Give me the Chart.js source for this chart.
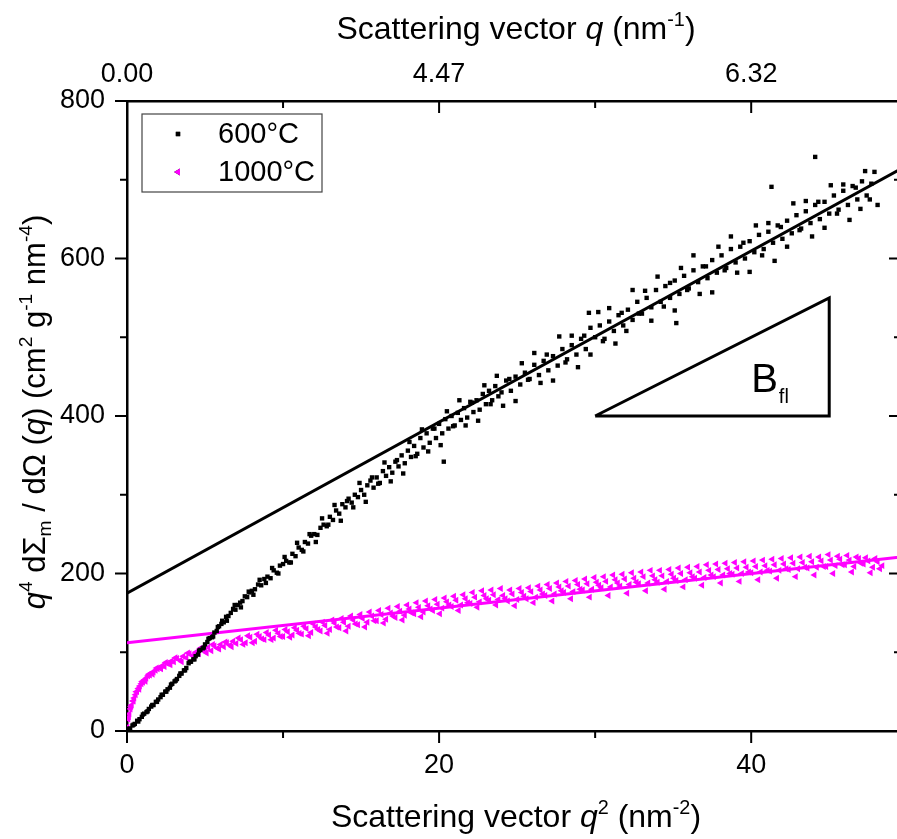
<!DOCTYPE html>
<html>
<head>
<meta charset="utf-8">
<script src="https://cdn.jsdelivr.net/npm/chart.js@4.4.0/dist/chart.umd.min.js"></script>
<style>
  html, body { margin: 0; padding: 0; overflow: hidden; background: #fff; }
  canvas { display: block; }
</style>
</head>
<body>
<canvas id="chart" width="905" height="839"></canvas>
<script>
const seriesNames = ['600°C', '1000°C']

// 600°C: q² (nm⁻²) and q⁴ dΣ/dΩ, core of the band
const xs600 = [0.05, 0.2, 0.35, 0.5, 0.65, 0.8, 0.95, 1.1, 1.25, 1.4, 1.55, 1.7, 1.85, 2.0, 2.15, 2.3, 2.45, 2.6, 2.75, 2.9,
  3.05, 3.2, 3.35, 3.5, 3.65, 3.8, 3.95, 4.1, 4.25, 4.4, 4.55, 4.7, 4.85, 5.0, 5.15, 5.3, 5.45, 5.6, 5.75, 5.9,
  6.05, 6.2, 6.35, 6.5, 6.65, 6.8, 6.95, 7.1, 7.25, 7.4, 7.55, 7.7, 7.85, 8.0, 8.2, 8.4, 8.6, 8.8, 9.0, 9.2,
  9.4, 9.6, 9.8, 10.0, 10.2, 10.4, 10.6, 10.8, 11.0, 11.2, 11.4, 11.6, 11.8, 12.0, 12.2, 12.4, 12.6, 12.8, 13.0, 13.2,
  13.4, 13.6, 13.8, 14.0, 14.2, 14.4, 14.6, 14.8, 15.0, 15.2, 15.4, 15.6, 15.8, 16.0, 16.2, 16.4, 16.6, 16.8, 17.0, 17.2,
  17.4, 17.6, 17.8, 18.0, 18.2, 18.4, 18.6, 18.8, 19.0, 19.2, 19.4, 19.6, 19.8, 20.0, 20.2, 20.3, 20.4, 20.6, 20.8, 21.0,
  21.2, 21.4, 21.6, 21.8, 22.0, 22.2, 22.4, 22.6, 22.8, 23.0, 23.2, 23.4, 23.6, 23.8, 24.0, 24.3, 24.6, 24.9, 25.2, 25.5,
  25.8, 26.1, 26.4, 26.7, 27.0, 27.3, 27.6, 27.9, 28.2, 28.5, 28.8, 29.1, 29.4, 29.6, 29.7, 30.0, 30.3, 30.6, 30.9, 31.2,
  31.5, 31.8, 32.1, 32.4, 32.7, 33.0, 33.3, 33.6, 33.9, 34.2, 34.5, 34.8, 35.1, 35.2, 35.4, 35.7, 36.0, 36.3, 36.6, 36.9,
  37.2, 37.5, 37.8, 38.1, 38.4, 38.7, 39.0, 39.3, 39.6, 39.9, 40.2, 40.5, 40.8, 41.1, 41.3, 41.4, 41.7, 42.0, 42.3, 42.6,
  42.9, 43.2, 43.5, 43.8, 44.1, 44.1, 44.4, 44.7, 45.0, 45.3, 45.6, 45.9, 46.2, 46.5, 46.8, 47.1, 47.4, 47.7, 48.1]
const ys600 = [1, 3, 7, 9, 13, 15, 18, 22, 24, 28, 31, 33, 37, 40, 43, 46, 50, 53, 55, 60,
  63, 66, 70, 73, 77, 80, 86, 88, 91, 95, 97, 103, 105, 110, 113, 118, 119, 125, 127, 133,
  136, 138, 145, 146, 150, 155, 154, 160, 163, 165, 171, 170, 176, 178, 180, 186, 185, 193, 196, 194,
  204, 201, 210, 212, 216, 214, 225, 222, 233, 230, 240, 238, 248, 250, 249, 258, 262, 260, 272, 268,
  280, 276, 288, 284, 295, 290, 300, 297, 306, 300, 312, 318, 309, 322, 315, 330, 324, 335, 328, 342,
  336, 350, 340, 356, 348, 362, 352, 372, 360, 378, 366, 384, 372, 390, 378, 342, 396, 384, 400, 388,
  404, 395, 410, 398, 418, 405, 420, 408, 428, 415, 432, 420, 438, 425, 430, 445, 432, 450, 440, 455,
  447, 465, 452, 470, 458, 476, 464, 485, 472, 490, 478, 498, 485, 531, 512, 500, 515, 498, 520, 508,
  528, 515, 535, 522, 545, 530, 550, 538, 560, 545, 565, 550, 572, 518, 555, 578, 562, 585, 570, 590,
  575, 598, 582, 604, 588, 612, 595, 615, 600, 622, 608, 630, 612, 634, 691, 620, 642, 625, 648, 632,
  655, 638, 660, 645, 668, 729, 650, 672, 657, 680, 662, 686, 668, 692, 675, 698, 680, 695, 668]

// 600°C, scattered points around the core
const xs600b = [0.12, 0.42, 0.72, 1.02, 1.32, 1.62, 1.92, 2.22, 2.52, 2.82, 3.12, 3.42, 3.72, 4.02, 4.32, 4.62, 4.92, 5.22, 5.52, 5.82,
  6.1, 6.4, 6.9, 7.3, 7.8, 8.1, 8.5, 8.9, 9.3, 9.7, 10.1, 10.5, 10.9, 11.3, 11.7, 12.1, 12.5, 12.9, 13.3, 13.7,
  14.1, 14.5, 14.9, 15.3, 15.7, 16.1, 16.5, 16.9, 17.3, 17.7, 18.1, 18.5, 18.9, 19.3, 19.7, 20.1, 20.5, 20.9, 21.3, 21.7,
  22.1, 22.5, 22.9, 23.3, 23.7, 24.1, 24.5, 24.9, 25.3, 25.7, 26.1, 26.5, 26.9, 27.3, 27.7, 28.1, 28.5, 28.9, 29.3, 29.7,
  30.2, 30.5, 30.9, 31.3, 31.7, 32.0, 32.4, 32.8, 33.2, 33.6, 34.0, 34.4, 34.8, 35.1, 35.5, 35.9, 36.3, 36.7, 37.1, 37.5,
  37.9, 38.3, 38.7, 39.1, 39.5, 39.9, 40.3, 40.7, 41.1, 41.5, 41.9, 42.3, 42.7, 43.1, 43.5, 43.9, 44.3, 44.7, 45.1, 45.5,
  45.9, 46.3, 46.7, 47.0, 47.3, 47.6, 47.9]
const ys600b = [3, 8, 12, 21, 25, 33, 37, 46, 50, 59, 64, 73, 77, 88, 91, 102, 106, 117, 120, 132,
  140, 140, 160, 157, 177, 173, 192, 188, 207, 200, 221, 214, 239, 228, 250, 240, 270, 262, 287, 267,
  292, 284, 315, 291, 322, 314, 341, 317, 344, 327, 367, 349, 383, 355, 384, 363, 406, 387, 420, 388,
  417, 394, 439, 415, 451, 413, 447, 419, 467, 446, 480, 442, 478, 445, 501, 468, 502, 462, 502, 478,
  532, 495, 537, 492, 531, 508, 560, 530, 559, 521, 577, 539, 569, 534, 588, 560, 604, 555, 590, 557,
  615, 585, 628, 582, 620, 583, 642, 604, 645, 597, 640, 615, 670, 636, 673, 628, 672, 639, 693, 657,
  694, 649, 690, 663, 711, 675, 710]

// 1000°C, core of the band
const xs1000 = [0.02, 0.08, 0.15, 0.22, 0.3, 0.38, 0.46, 0.55, 0.64, 0.73, 0.82, 0.92, 1.02, 1.12, 1.23, 1.34, 1.46, 1.58, 1.7, 1.83,
  1.96, 2.1, 2.25, 2.4, 2.55, 2.7, 2.85, 3.0, 3.2, 3.4, 3.6, 3.8, 4.0, 4.2, 4.4, 4.6, 4.8, 5.0, 5.2, 5.4,
  5.6, 5.8, 6.0, 6.2, 6.4, 6.6, 6.8, 7.0, 7.3, 7.6, 7.9, 8.2, 8.5, 8.8, 9.1, 9.4, 9.7, 10.0, 10.3, 10.6,
  10.9, 11.2, 11.5, 11.8, 12.1, 12.4, 12.7, 13.0, 13.3, 13.6, 13.9, 14.2, 14.5, 14.8, 15.1, 15.4, 15.7, 16.0, 16.3, 16.6,
  16.9, 17.2, 17.5, 17.8, 18.1, 18.4, 18.7, 19.0, 19.3, 19.6, 19.9, 20.2, 20.5, 20.8, 21.1, 21.4, 21.7, 22.0, 22.3, 22.6,
  22.9, 23.2, 23.5, 23.8, 24.1, 24.4, 24.7, 25.0, 25.3, 25.6, 25.9, 26.2, 26.5, 26.8, 27.1, 27.4, 27.7, 28.0, 28.3, 28.6,
  28.9, 29.2, 29.5, 29.8, 30.1, 30.4, 30.7, 31.0, 31.3, 31.6, 31.9, 32.2, 32.5, 32.8, 33.1, 33.4, 33.7, 34.0, 34.3, 34.6,
  34.9, 35.2, 35.5, 35.8, 36.1, 36.4, 36.7, 37.0, 37.3, 37.6, 37.9, 38.2, 38.5, 38.8, 39.1, 39.4, 39.7, 40.0, 40.3, 40.6,
  40.9, 41.2, 41.5, 41.8, 42.1, 42.4, 42.7, 43.0, 43.3, 43.6, 43.9, 44.2, 44.5, 44.8, 45.1, 45.4, 45.7, 46.0, 46.3, 46.6,
  46.9, 47.2, 47.5, 47.8, 48.1, 48.4]
const ys1000 = [5, 15, 22, 28, 33, 38, 42, 46, 50, 54, 57, 60, 62, 65, 67, 70, 71, 74, 75, 77,
  79, 80, 83, 82, 86, 85, 89, 88, 92, 90, 95, 93, 98, 96, 100, 98, 103, 101, 106, 102,
  108, 105, 110, 107, 112, 109, 114, 111, 116, 112, 119, 114, 120, 116, 122, 118, 124, 120, 126, 122,
  128, 123, 130, 125, 132, 127, 134, 129, 137, 131, 138, 133, 141, 135, 143, 138, 146, 140, 148, 142,
  150, 144, 152, 147, 155, 149, 157, 151, 159, 153, 161, 156, 164, 158, 166, 160, 168, 162, 170, 164,
  172, 166, 173, 167, 172, 165, 174, 167, 176, 168, 177, 170, 179, 172, 181, 174, 183, 176, 184, 177,
  186, 179, 187, 180, 189, 182, 190, 183, 192, 184, 193, 186, 194, 187, 196, 188, 197, 189, 197, 190,
  199, 191, 200, 192, 201, 194, 202, 195, 204, 196, 205, 198, 206, 199, 207, 200, 208, 201, 209, 202,
  210, 203, 211, 204, 212, 205, 213, 206, 214, 207, 215, 208, 216, 209, 217, 210, 218, 211, 217, 209,
  219, 212, 216, 208, 215, 210]

// 1000°C, scattered points around the core
const xs1000b = [0.12, 0.26, 0.42, 0.6, 0.78, 0.97, 1.18, 1.4, 1.64, 1.9, 2.18, 2.48, 2.78, 3.1, 3.5, 3.9, 4.3, 4.7, 5.1, 5.5,
  5.9, 6.3, 6.7, 7.15, 7.45, 7.75, 8.05, 8.35, 8.65, 8.95, 9.25, 9.55, 9.85, 10.15, 10.45, 10.75, 11.05, 11.35, 11.65, 11.95,
  12.25, 12.55, 12.85, 13.15, 13.45, 13.75, 14.05, 14.35, 14.65, 14.95, 15.25, 15.55, 15.85, 16.15, 16.45, 16.75, 17.05, 17.35, 17.65, 17.95,
  18.25, 18.55, 18.85, 19.15, 19.45, 19.75, 20.05, 20.35, 20.65, 20.95, 21.25, 21.55, 21.85, 22.15, 22.45, 22.75, 23.05, 23.35, 23.65, 23.95,
  24.25, 24.55, 24.85, 25.15, 25.45, 25.75, 26.05, 26.35, 26.65, 26.95, 27.25, 27.55, 27.85, 28.15, 28.45, 28.75, 29.05, 29.35, 29.65, 29.95,
  30.25, 30.55, 30.85, 31.15, 31.45, 31.75, 32.05, 32.35, 32.65, 32.95, 33.25, 33.55, 33.85, 34.15, 34.45, 34.75, 35.05, 35.35, 35.65, 35.95,
  36.25, 36.55, 36.85, 37.15, 37.45, 37.75, 38.05, 38.35, 38.65, 38.95, 39.25, 39.55, 39.85, 40.15, 40.45, 40.75, 41.05, 41.35, 41.65, 41.95,
  42.25, 42.55, 42.85, 43.15, 43.45, 43.75, 44.05, 44.35, 44.65, 44.95, 45.25, 45.55, 45.85, 46.15, 46.45, 46.75, 47.05, 47.35, 47.65, 47.95,
  48.25]
const ys1000b = [18, 31, 38, 50, 53, 63, 63, 72, 72, 80, 79, 87, 84, 93, 88, 99, 95, 105, 99, 110,
  104, 113, 107, 118, 110, 121, 112, 123, 117, 125, 116, 128, 120, 129, 119, 131, 124, 133, 121, 136,
  129, 138, 124, 141, 132, 143, 127, 146, 136, 148, 132, 151, 140, 153, 137, 156, 146, 158, 141, 160,
  150, 163, 145, 165, 155, 167, 149, 169, 160, 171, 153, 173, 163, 176, 157, 178, 168, 179, 160, 181,
  168, 179, 159, 181, 171, 182, 163, 184, 174, 186, 165, 188, 178, 190, 168, 191, 180, 193, 170, 195,
  185, 196, 172, 198, 188, 199, 175, 201, 189, 202, 178, 204, 192, 204, 180, 205, 194, 207, 183, 208,
  196, 209, 185, 211, 198, 212, 188, 213, 200, 214, 190, 215, 202, 216, 192, 217, 204, 218, 194, 219,
  206, 220, 196, 221, 208, 222, 198, 221, 209, 224, 200, 222, 211, 223, 202, 221, 213, 220, 201, 219,
  206]

// linear fits at high q
const fitX = [0, 49.6]
const fit600 = [175, 714]
const fit1000 = [112, 221]

// slope triangle
const triX = [30, 45, 45, 30]
const triY = [400, 400, 550, 400]

// axes
const xMax = 49.6
const xLabelVals = [0, 20, 40]
const qTickLabels = ['0.00', '4.47', '6.32']
const yLabelVals = [0, 200, 400, 600, 800]

const FONT = "'Liberation Sans', Arial, Helvetica, sans-serif"
const MAGENTA = '#ff00ff'

const pts = (xs, ys) => xs.map((x, i) => ({ x, y: ys[i] }))

function drawRich(ctx, parts, x, y, size) {
  const fontFor = (p) => {
    const s = p[1] === 'sup' || p[1] === 'sub' ? size * 0.62 : size
    return (p[1] === 'i' ? 'italic ' : '') + s + 'px ' + FONT
  }
  let total = 0
  parts.forEach(p => { ctx.font = fontFor(p); total += ctx.measureText(p[0]).width })
  let cx = x - total / 2
  ctx.textAlign = 'left'
  ctx.textBaseline = 'alphabetic'
  parts.forEach(p => {
    ctx.font = fontFor(p)
    let dy = 0
    if (p[1] === 'sup') dy = -size * 0.42
    if (p[1] === 'sub') dy = size * 0.2
    ctx.fillText(p[0], cx, y + dy)
    cx += ctx.measureText(p[0]).width
  })
}

const decorations = {
  id: 'decorations',
  afterDraw(chart) {
    const { ctx, chartArea: a, scales } = chart
    ctx.save()
    ctx.fillStyle = '#000'
    ctx.strokeStyle = '#000'
    ctx.lineWidth = 2

    // tick marks: outward on left/bottom, inward on top/right
    const xt = []
    for (let v = 0; v <= xMax; v += 10) xt.push(v)
    const yt = []
    for (let v = 0; v <= 800; v += 100) yt.push(v)
    ctx.beginPath()
    xt.forEach(v => {
      const p = scales.x.getPixelForValue(v)
      const len = v % 20 === 0 ? 12 : 7
      ctx.moveTo(p, a.bottom); ctx.lineTo(p, a.bottom + len)
      ctx.moveTo(p, a.top); ctx.lineTo(p, a.top + len)
    })
    yt.forEach(v => {
      const p = scales.y.getPixelForValue(v)
      const len = v % 200 === 0 ? 12 : 7
      ctx.moveTo(a.left, p); ctx.lineTo(a.left - len, p)
      ctx.moveTo(a.right, p); ctx.lineTo(a.right - len, p)
    })
    ctx.stroke()

    // axis titles
    drawRich(ctx, [['Scattering vector ', ''], ['q', 'i'], [' (nm', ''], ['-1', 'sup'], [')', '']], 516, 39, 32)
    drawRich(ctx, [['Scattering vector ', ''], ['q', 'i'], ['2', 'sup'], [' (nm', ''], ['-2', 'sup'], [')', '']], 516, 827, 32)
    ctx.save()
    ctx.translate(45, 412)
    ctx.rotate(-Math.PI / 2)
    drawRich(ctx, [['q', 'i'], ['4', 'sup'], [' d', ''], ['Σ', ''], ['m', 'sub'], [' / dΩ (', ''], ['q', 'i'],
      [') (cm', ''], ['2', 'sup'], [' g', ''], ['-1', 'sup'], [' nm', ''], ['-4', 'sup'], [')', '']], 0, 0, 31)
    ctx.restore()

    // B_fl label at the slope triangle
    const bx = scales.x.getPixelForValue(40)
    const by = scales.y.getPixelForValue(430)
    ctx.textAlign = 'left'
    ctx.textBaseline = 'alphabetic'
    ctx.font = '40px ' + FONT
    ctx.fillText('B', bx, by)
    const bw = ctx.measureText('B').width
    ctx.font = '20px ' + FONT
    ctx.fillText('fl', bx + bw + 1, by + 11)

    // legend
    const lx = a.left + 15, ly = a.top + 13, lw = 180, lh = 78
    ctx.lineWidth = 1.2
    ctx.strokeStyle = '#444'
    ctx.strokeRect(lx, ly, lw, lh)
    ctx.font = '29px ' + FONT
    ctx.textBaseline = 'middle'
    chart.data.datasets.slice(0, 2).forEach((ds, i) => {
      const cy = ly + 20 + i * 38
      Chart.helpers.drawPoint(ctx, {
        pointStyle: ds.pointStyle, radius: ds.pointRadius, rotation: ds.rotation || 0, borderWidth: 0
      }, lx + 36, cy)
      ctx.fillStyle = ds.backgroundColor
      ctx.fill()
      ctx.fillStyle = '#000'
      ctx.fillText(seriesNames[i], lx + 76, cy + 1)
    })
    ctx.restore()
  }
}

// pin the plot area: fixed axis sizes and no extra label padding
const fixSize = (prop, size) => (scale) => {
  scale[prop] = size
  scale.paddingLeft = 0
  scale.paddingRight = 0
  scale.paddingTop = 0
  scale.paddingBottom = 0
}

const tickFont = { family: FONT, size: 27 }

new Chart(document.getElementById('chart'), {
  type: 'scatter',
  data: {
    datasets: [
      {
        label: seriesNames[0], data: pts(xs600, ys600).concat(pts(xs600b, ys600b)), order: 2,
        pointStyle: 'rect', pointRadius: 3.1, pointBorderWidth: 0, backgroundColor: '#000', borderColor: '#000'
      },
      {
        label: seriesNames[1], data: pts(xs1000, ys1000).concat(pts(xs1000b, ys1000b)), order: 3,
        pointStyle: 'triangle', rotation: -90, pointRadius: 4, pointBorderWidth: 0,
        backgroundColor: MAGENTA, borderColor: MAGENTA
      },
      {
        type: 'line', data: pts(fitX, fit600), order: 1,
        borderColor: '#000', borderWidth: 3, pointRadius: 0
      },
      {
        type: 'line', data: pts(fitX, fit1000), order: 4,
        borderColor: MAGENTA, borderWidth: 3, pointRadius: 0
      },
      {
        type: 'line', data: pts(triX, triY), order: 0,
        borderColor: '#000', borderWidth: 3, pointRadius: 0, borderJoinStyle: 'miter'
      }
    ]
  },
  options: {
    responsive: false,
    animation: false,
    devicePixelRatio: 1,
    layout: { padding: 0 },
    plugins: { legend: { display: false }, tooltip: { enabled: false } },
    scales: {
      x: {
        type: 'linear', position: 'bottom', min: 0, max: xMax,
        afterFit: fixSize('height', 108),
        grid: { display: false, drawTicks: false },
        border: { display: true, color: '#000', width: 2.5 },
        ticks: {
          stepSize: 10, padding: 18, color: '#000', font: tickFont,
          maxRotation: 0, autoSkip: false,
          callback: v => (xLabelVals.includes(v) ? String(v) : '')
        }
      },
      x2: {
        type: 'linear', position: 'top', min: 0, max: xMax,
        afterFit: fixSize('height', 101),
        grid: { display: false, drawTicks: false },
        border: { display: true, color: '#000', width: 2.5 },
        ticks: {
          stepSize: 10, padding: 10, color: '#000', font: tickFont,
          maxRotation: 0, autoSkip: false,
          callback: v => (xLabelVals.includes(v) ? qTickLabels[xLabelVals.indexOf(v)] : '')
        }
      },
      y: {
        type: 'linear', position: 'left', min: 0, max: 800,
        afterFit: fixSize('width', 127),
        grid: { display: false, drawTicks: false },
        border: { display: true, color: '#000', width: 2.5 },
        ticks: {
          stepSize: 100, padding: 22, color: '#000', font: tickFont,
          callback: v => (yLabelVals.includes(v) ? String(v) : '')
        }
      },
      y2: {
        type: 'linear', position: 'right', min: 0, max: 800,
        afterFit: fixSize('width', 2),
        grid: { display: false, drawTicks: false },
        border: { display: true, color: '#000', width: 2.5 },
        ticks: { display: false, stepSize: 100 }
      }
    }
  },
  plugins: [decorations]
})
</script>
</body>
</html>
